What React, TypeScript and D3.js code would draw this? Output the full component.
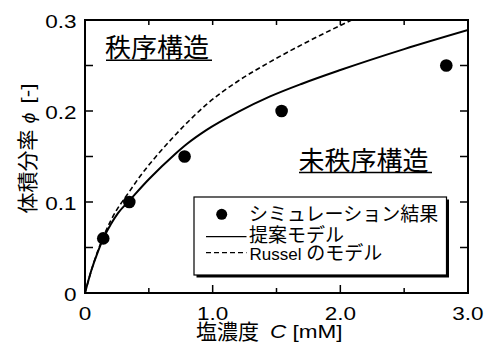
import React from 'react';
import * as d3 from 'd3';

// simulation results (dots)
const simC = [0.143, 0.347, 0.78, 1.54, 2.83];
const simPhi = [0.06, 0.1, 0.15, 0.2, 0.25];

// proposed model (solid)
const modelC = [0, 0.05, 0.1, 0.15, 0.2, 0.26, 0.35, 0.5, 0.7, 0.8, 0.95, 1.2, 1.45, 1.7, 2.0, 2.5, 3.0];
const modelPhi = [0, 0.025, 0.045, 0.062, 0.075, 0.088, 0.102, 0.125, 0.152, 0.164, 0.179, 0.199, 0.216, 0.23, 0.245, 0.268, 0.289];

// Russel model (dashed)
const russelC = [0, 0.05, 0.1, 0.2, 0.35, 0.43, 0.55, 0.69, 0.82, 0.95, 1.2, 1.45, 1.7, 2.0, 2.15];
const russelPhi = [0, 0.025, 0.046, 0.079, 0.112, 0.128, 0.149, 0.171, 0.19, 0.207, 0.233, 0.254, 0.273, 0.294, 0.304];

const xMajor = [0, 1, 2, 3];
const xMinor = [0.5, 1.5, 2.5];
const xLabels = ['0', '1.0', '2.0', '3.0'];
const yMajor = [0, 0.1, 0.2, 0.3];
const yMinor = [0.05, 0.15, 0.25];
const yLabels = ['0', '0.1', '0.2', '0.3'];

const legendLabels = ['シミュレーション結果', '提案モデル'];

const W = 489;
const H = 349;
const latin = "'Liberation Sans', Arial, 'DejaVu Sans', sans-serif";
const cjk = "'Noto Sans CJK JP', sans-serif";

const App = () => {
  const x = d3.scaleLinear().domain([0, 3]).range([85, 468]);
  const y = d3.scaleLinear().domain([0, 0.3]).range([293, 20]);

  const modelPath = d3
    .line<number>()
    .x((d, i) => x(modelC[i]))
    .y(d => y(d))
    .curve(d3.curveMonotoneX)(modelPhi);
  const russelPath = d3
    .line<number>()
    .x((d, i) => x(russelC[i]))
    .y(d => y(d))
    .curve(d3.curveMonotoneX)(russelPhi);

  const [x0, x1] = x.range();
  const [y0, y1] = y.range();

  return (
    <svg width={W} height={H} style={{ position: 'absolute', left: 0, top: 0, background: '#fff' }}>
      <defs>
        <clipPath id="plot">
          <rect x={x0} y={y1} width={x1 - x0} height={y0 - y1} />
        </clipPath>
      </defs>

      {/* ticks, all pointing inward */}
      <g stroke="#000" strokeWidth={1.5}>
        {xMajor.map(v => (
          <line key={'xb' + v} x1={x(v)} x2={x(v)} y1={y0} y2={y0 - 8} />
        ))}
        {xMinor.map(v => (
          <line key={'xm' + v} x1={x(v)} x2={x(v)} y1={y0} y2={y0 - 5} />
        ))}
        {[...xMajor, ...xMinor].map(v => (
          <line key={'xt' + v} x1={x(v)} x2={x(v)} y1={y1} y2={y1 + 5} />
        ))}
        {[...yMajor, ...yMinor].map(v => (
          <g key={'y' + v}>
            <line x1={x0} x2={x0 + 8} y1={y(v)} y2={y(v)} />
            <line x1={x1} x2={x1 - 8} y1={y(v)} y2={y(v)} />
          </g>
        ))}
      </g>

      {/* curves */}
      <g clipPath="url(#plot)" fill="none" stroke="#000">
        <path d={russelPath || ''} strokeWidth={1.6} strokeDasharray="5,3" />
        <path d={modelPath || ''} strokeWidth={2} />
      </g>

      {/* frame */}
      <rect x={x0} y={y1} width={x1 - x0} height={y0 - y1} fill="none" stroke="#000" strokeWidth={2} />

      {/* simulation dots */}
      {simC.map((c, i) => (
        <circle key={'p' + i} cx={x(c)} cy={y(simPhi[i])} r={6.3} fill="#000" />
      ))}

      {/* tick labels (latin glyphs are drawn a bit wide in the source) */}
      {xMajor.map((v, i) => (
        <text
          key={'xl' + v}
          transform={`translate(${x(v)},319.5) scale(1.25,1)`}
          textAnchor="middle"
          fontFamily={latin}
          fontSize={18}
        >
          {xLabels[i]}
        </text>
      ))}
      {yMajor.map((v, i) => (
        <text
          key={'yl' + v}
          transform={`translate(76.5,${y(v) + 7.5}) scale(1.25,1)`}
          textAnchor="end"
          fontFamily={latin}
          fontSize={18}
        >
          {yLabels[i]}
        </text>
      ))}

      {/* axis titles */}
      <text x={196} y={339} fontFamily={cjk} fontSize={21}>塩濃度</text>
      <text transform="translate(270,338) scale(1.25,1)" fontFamily={latin} fontSize={18}>
        <tspan fontStyle="italic">C</tspan>
        <tspan> [mM]</tspan>
      </text>
      <g transform="translate(34.5,213.5) rotate(-90)">
        <text x={0} y={0} fontFamily={cjk} fontSize={21}>体積分率</text>
        <text transform="translate(90,0) scale(1.1,1)" fontFamily={latin} fontSize={18} fontStyle="italic">ϕ</text>
        <text transform="translate(110,-1) scale(1.25,1)" fontFamily={latin} fontSize={18}>[-]</text>
      </g>

      {/* region annotations */}
      <text x={105} y={57} fontFamily={cjk} fontSize={26}>秩序構造</text>
      <line x1={106} x2={212} y1={60.3} y2={60.3} stroke="#000" strokeWidth={1.6} />
      <text x={298.5} y={169.5} fontFamily={cjk} fontSize={26}>未秩序構造</text>
      <line x1={299} x2={432} y1={172.5} y2={172.5} stroke="#000" strokeWidth={1.6} />

      {/* legend */}
      <rect x={196.5} y={199.5} width={252.5} height={78} fill="#000" />
      <rect x={194} y={197} width={252.5} height={78} fill="#fff" stroke="#000" strokeWidth={1.2} />
      <circle cx={221.7} cy={214.3} r={5.5} fill="#000" />
      <text x={249} y={220.5} fontFamily={cjk} fontSize={19}>{legendLabels[0]}</text>
      <line x1={206} x2={246.5} y1={236.7} y2={236.7} stroke="#000" strokeWidth={1.2} />
      <text x={249} y={242} fontFamily={cjk} fontSize={19}>{legendLabels[1]}</text>
      <line x1={206} x2={246.5} y1={252.7} y2={252.7} stroke="#000" strokeWidth={1.2} strokeDasharray="5,3" />
      <text x={249.5} y={260} fontFamily={latin} fontSize={17}>
        Russel <tspan fontFamily={cjk} fontSize={19}>のモデル</tspan>
      </text>
    </svg>
  );
};

export default App;
